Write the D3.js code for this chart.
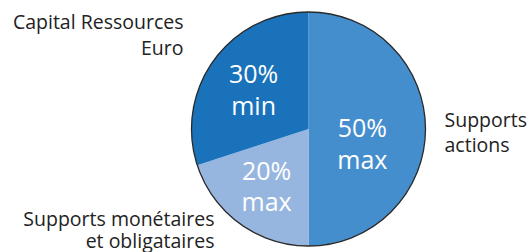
<!DOCTYPE html>
<html><head><meta charset="utf-8">
<script src="https://cdn.jsdelivr.net/npm/d3@7"></script>
<style>
html,body{margin:0;padding:0;background:#fff;}
svg{display:block;}
text{font-family:"Open Sans",sans-serif;}
</style></head>
<body>
<svg id="chart" width="530" height="252"></svg>
<script>
// ---- data ----
const categories = ["Supports actions", "Supports monétaires et obligataires", "Capital Ressources Euro"];
const categoryLines = [["Supports", "actions"], ["Supports monétaires", "et obligataires"], ["Capital Ressources", "Euro"]];
const values = [50, 20, 30];
const valueLabels = ["50%", "20%", "30%"];
const limitLabels = ["max", "max", "min"];
const colors = ["#458ecd", "#97b6df", "#1a72bb"];

// ---- layout ----
const W = 530, H = 252;
const cx = 308.5, cy = 129, R = 117;
const svg = d3.select("#chart");
const g = svg.append("g").attr("transform", `translate(${cx},${cy})`);

const pie = d3.pie().sort(null).value(d => d).startAngle(0).endAngle(2 * Math.PI);
const arcs = pie(values);
const arc = d3.arc().innerRadius(0).outerRadius(R);

g.selectAll("path.slice").data(arcs).enter().append("path")
  .attr("class", "slice")
  .attr("d", arc)
  .attr("fill", (d, i) => colors[i]);

g.append("circle").attr("r", R).attr("fill", "none")
  .attr("stroke", "#2a2a2a").attr("stroke-width", 1.3);

// value labels inside slices
const labelArc = d3.arc().innerRadius(0).outerRadius(R * 1.16);
const valOffsets = [[-14, 15], [-2, 3], [0, 1]];
arcs.forEach((a, i) => {
  const c = labelArc.centroid(a);
  const x = c[0] + valOffsets[i][0], y = c[1] + valOffsets[i][1];
  const t = g.append("text").attr("text-anchor", "middle").attr("fill", "#fff")
    .attr("font-size", 25);
  t.append("tspan").attr("x", x).attr("y", y - 7).text(valueLabels[i]);
  t.append("tspan").attr("x", x).attr("y", y + 24.5).text(limitLabels[i]);
});

// category labels outside
const catPos = [
  {x: R + 19, y: -2, anchor: "start", lh: 25},
  {x: -94, y: 97, anchor: "end", lh: 22},
  {x: -125, y: -100, anchor: "end", lh: 26}
];
arcs.forEach((a, i) => {
  const p = catPos[i];
  const t = g.append("text").attr("text-anchor", p.anchor).attr("fill", "#222")
    .attr("font-size", 19.5);
  categoryLines[i].forEach((ln, j) => {
    t.append("tspan").attr("x", p.x).attr("y", p.y + j * p.lh).text(ln);
  });
});
</script>
</body></html>
